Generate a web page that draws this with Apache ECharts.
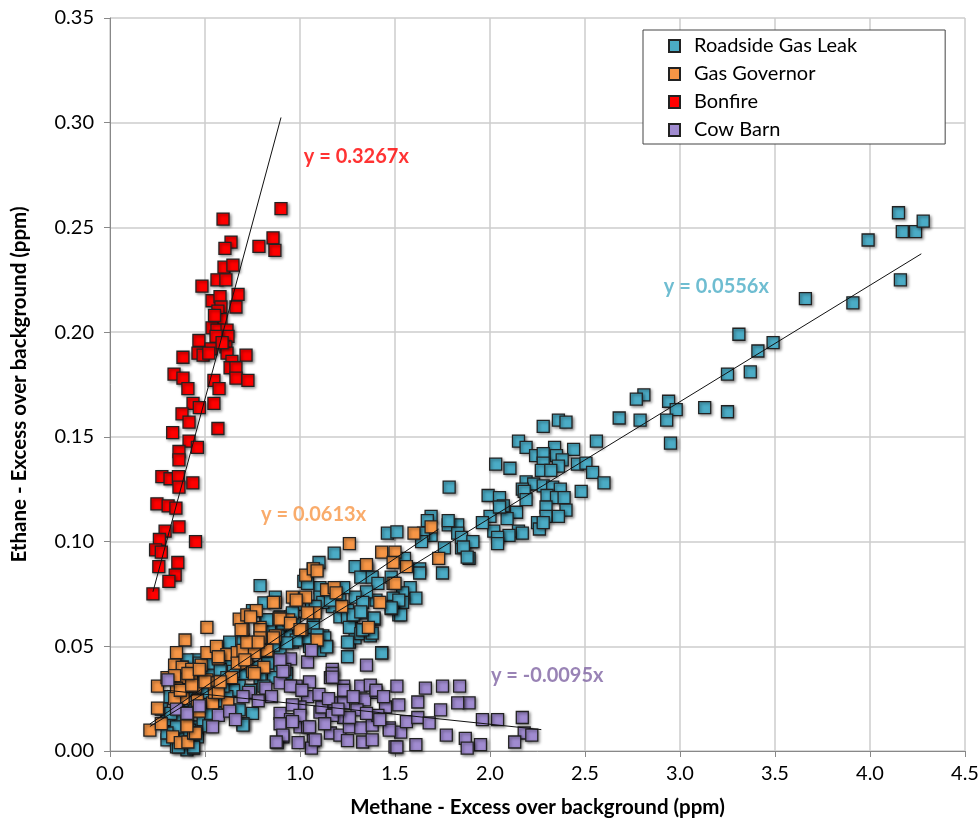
<!DOCTYPE html>
<html>
<head>
<meta charset="utf-8">
<script src="https://cdn.jsdelivr.net/npm/echarts@6/dist/echarts.min.js"></script>
<style>html,body{margin:0;padding:0;background:#fff}#c{width:980px;height:821px}</style>
</head>
<body>
<div id="c"></div>
<script>
const xTicks = [0.0,0.5,1.0,1.5,2.0,2.5,3.0,3.5,4.0,4.5];
const yTicks = [0.00,0.05,0.10,0.15,0.20,0.25,0.30,0.35];

const roadside = [
[4.15,0.257],[4.17,0.248],[4.24,0.248],[4.28,0.253],[3.99,0.244],[4.16,0.225],[3.66,0.216],[3.91,0.214],[3.31,0.199],[3.49,0.195],[3.41,0.191],[3.37,0.181],[3.25,0.180],[2.81,0.170],[2.77,0.168],[2.94,0.167],[2.98,0.163],[3.13,0.164],[3.25,0.162],[2.68,0.159],[2.79,0.158],[2.93,0.158],[2.95,0.147],
[2.28,0.155],[2.36,0.158],[2.40,0.157],[2.56,0.148],[2.15,0.148],[2.19,0.145],[2.34,0.145],[2.44,0.144],[2.24,0.141],[2.28,0.142],[2.35,0.141],[2.38,0.139],[2.03,0.137],[2.28,0.1375],[2.36,0.136],[2.46,0.137],[2.505,0.1375],[2.105,0.135],[2.27,0.134],[2.32,0.134],[2.54,0.133],[2.60,0.128],[1.785,0.126],[2.19,0.1285],[2.23,0.1275],[2.28,0.1266],[2.33,0.126],[2.37,0.125],[2.48,0.124],[2.17,0.125],[1.99,0.122],[2.05,0.121],[2.07,0.117],[2.30,0.122],[2.35,0.121],[2.39,0.121],[2.40,0.115],[2.295,0.1165],[2.295,0.112],[2.36,0.112],[2.14,0.114],[2.09,0.111],[2.0,0.112],[2.25,0.109],[2.26,0.106],[2.28,0.109],[2.15,0.105],[2.17,0.104],[2.10,0.103],[2.02,0.105],[1.96,0.109],[2.04,0.102],[2.04,0.099],[1.90,0.100],[1.86,0.099],[1.83,0.108],[1.78,0.108],[1.83,0.104],[1.85,0.097],[1.89,0.092],[1.75,0.085],[1.69,0.112],[1.69,0.103],[2.05,0.1165],[2.18,0.124],[2.19,0.120],[1.67,0.110],[1.78,0.110],[1.65,0.104],[1.64,0.100],[1.85,0.102],[1.91,0.100],[1.76,0.097],[1.86,0.0974],[1.88,0.0926],
[1.46,0.104],[1.51,0.1046],[1.18,0.0945],[1.55,0.092],[1.63,0.087],[1.63,0.085],[1.10,0.090],[1.02,0.081],[1.29,0.088],[1.35,0.087],[1.32,0.083],[1.38,0.083],[1.41,0.080],[1.48,0.083],[1.58,0.078],[1.61,0.073],[1.54,0.0755],[1.49,0.073],[1.54,0.071],[1.49,0.069],[1.52,0.065],[1.40,0.072],[1.35,0.076],[1.29,0.0735],[1.105,0.078],[1.18,0.077],[1.23,0.078],[1.33,0.071],[1.21,0.072],[1.17,0.069],[1.21,0.064],[1.27,0.064],[1.32,0.066],[1.39,0.063],[1.35,0.057],[1.06,0.069],[1.07,0.064],[0.98,0.070],[0.96,0.065],[1.12,0.055],[1.09,0.053],[1.26,0.052],[1.29,0.054],[1.04,0.080],
[1.07,0.087],[0.79,0.079],[0.87,0.0735],[0.82,0.0626],[1.105,0.0735],[1.12,0.071],[1.08,0.069],[1.25,0.067],[1.25,0.064],[1.26,0.059],[1.32,0.056],[1.37,0.055],[1.25,0.052],[1.43,0.047],[1.13,0.054],[1.14,0.050],[1.105,0.048],[1.05,0.050],[1.04,0.054],[0.96,0.052],[0.98,0.055],[0.93,0.057],[0.895,0.060],[0.895,0.064],[0.85,0.0626],[0.84,0.058],[0.885,0.055],[0.95,0.064],[0.97,0.061],[0.895,0.048],
[1.25,0.045],[1.53,0.065],[1.52,0.072],[1.48,0.068],[1.28,0.065],[1.33,0.058],[1.38,0.0563],[1.39,0.0635],
[0.81,0.0707],[0.75,0.067],[0.826,0.0626],[1.16,0.072],[0.96,0.066],[1.07,0.059],[1.09,0.0554],[1.14,0.0497],[0.91,0.061],[0.98,0.053],[0.93,0.0516],[0.86,0.0506],[0.79,0.048],[0.67,0.045],[0.46,0.0435],[0.53,0.037],[0.38,0.037],[0.62,0.042],[0.70,0.037],[0.75,0.040],[0.83,0.042],[0.895,0.040],[0.93,0.037],[0.86,0.035],[0.79,0.035],[0.68,0.031],[0.65,0.029],[0.74,0.029],[0.81,0.031],[0.68,0.0196],[0.75,0.018],[0.70,0.013],[0.316,0.026],[0.49,0.021],[0.44,0.0196],[0.37,0.015],[0.30,0.015],[0.30,0.0053],[0.35,0.002],[0.405,0.0005],[0.44,0.0014],[0.38,0.0067],[0.46,0.0067],[0.33,0.0086],[0.35,0.0115],[0.46,0.0115],[0.49,0.015],[0.53,0.018],[0.58,0.021],[0.615,0.026],[0.595,0.031],[0.51,0.028],[0.405,0.029],[0.47,0.034],[0.42,0.034],[0.405,0.0435],[0.38,0.040],[0.47,0.042],[0.54,0.042],[0.58,0.039],[0.65,0.038],[0.615,0.035],
[0.63,0.052],[0.70,0.053],[0.80,0.048],[0.55,0.031],[0.57,0.024],[0.52,0.012],[0.42,0.010],[0.27,0.020],[0.32,0.018],[0.38,0.024],[0.70,0.0124],[0.30,0.0086],[0.36,0.0019],[0.44,0.0019],[1.43,0.0468],[1.33,0.0578],[1.28,0.065],[1.32,0.0664],[1.48,0.0683]
];

const gasGovernor = [
[1.26,0.099],[1.43,0.095],[1.50,0.095],[1.60,0.104],[1.69,0.107],[1.56,0.088],[1.49,0.080],[1.42,0.071],[1.35,0.089],[1.36,0.059],[1.22,0.069],[1.14,0.077],[1.18,0.078],[1.19,0.0755],[1.03,0.084],[1.07,0.087],[1.09,0.086],[0.96,0.0735],[1.03,0.0735],[1.08,0.066],[0.87,0.071],[0.89,0.0635],[0.94,0.0626],[1.01,0.058],[1.09,0.053],[0.79,0.059],[0.87,0.055],[1.49,0.090],[1.73,0.092],[1.50,0.080],
[0.51,0.059],[0.395,0.053],[0.35,0.047],[0.34,0.041],[0.25,0.031],[0.25,0.0205],[0.21,0.010],[0.27,0.013],[0.33,0.0067],[0.37,0.004],[0.41,0.0043],[0.405,0.013],[0.44,0.0086],[0.405,0.018],[0.385,0.025],[0.46,0.024],[0.54,0.023],[0.62,0.023],[0.30,0.035],[0.385,0.035],[0.43,0.035],[0.51,0.034],[0.56,0.0325],[0.35,0.030],[0.38,0.040],[0.43,0.039],[0.48,0.041],[0.51,0.047],[0.56,0.050],[0.615,0.046],[0.67,0.047],[0.70,0.048],[0.57,0.044],[0.67,0.042],[0.72,0.042],[0.75,0.038],[0.81,0.040],[0.68,0.063],[0.72,0.065],[0.77,0.067],[0.70,0.058],[0.79,0.058],[0.79,0.054],[0.895,0.063],[0.95,0.061],[0.86,0.071],[0.98,0.072],[1.04,0.066],[1.0,0.058],[0.86,0.054],[0.826,0.048],[0.76,0.047],[0.72,0.052],[0.47,0.019],[0.55,0.028],[0.45,0.031],[0.34,0.025],[0.37,0.029],[0.43,0.0315],[0.50,0.033],[0.57,0.028],[0.34,0.036],[0.41,0.037],[0.47,0.039],[0.57,0.045],[0.74,0.064],[0.69,0.058],[0.78,0.052],[0.71,0.0435],[0.76,0.037],[0.64,0.035],[0.58,0.033],[0.45,0.0086],[0.405,0.012]
];

const bonfire = [
[0.90,0.259],[0.595,0.254],[0.858,0.245],[0.868,0.239],[0.784,0.241],[0.637,0.243],[0.605,0.240],[0.60,0.231],[0.647,0.232],[0.563,0.225],[0.61,0.225],[0.484,0.222],[0.674,0.218],[0.537,0.215],[0.579,0.217],[0.584,0.212],[0.663,0.212],[0.568,0.210],[0.584,0.206],[0.537,0.202],[0.563,0.201],[0.616,0.201],[0.621,0.198],[0.558,0.198],[0.468,0.196],[0.532,0.192],[0.61,0.193],[0.463,0.190],[0.49,0.189],[0.384,0.188],[0.616,0.190],[0.716,0.189],[0.642,0.186],[0.632,0.183],[0.663,0.183],[0.337,0.180],[0.384,0.178],[0.41,0.173],[0.547,0.177],[0.574,0.173],[0.663,0.178],[0.726,0.177],[0.437,0.166],[0.47,0.164],[0.547,0.166],[0.379,0.161],[0.416,0.157],[0.568,0.154],[0.33,0.152],[0.416,0.148],[0.46,0.145],[0.363,0.143],[0.363,0.139],[0.273,0.131],[0.316,0.130],[0.36,0.131],[0.363,0.126],[0.436,0.128],[0.247,0.118],[0.306,0.117],[0.347,0.116],[0.363,0.107],[0.29,0.105],[0.26,0.101],[0.45,0.100],[0.24,0.096],[0.27,0.095],[0.257,0.088],[0.357,0.090],[0.343,0.084],[0.31,0.081],[0.226,0.075],[0.55,0.208],[0.59,0.195],[0.52,0.190]
];

const cowBarn = [
[0.305,0.034],[0.35,0.020],[0.405,0.018],[0.47,0.0215],[0.57,0.017],[0.63,0.019],[0.54,0.0115],[0.73,0.028],[0.82,0.030],[0.895,0.0325],[0.95,0.044],[1.04,0.0425],[1.06,0.048],[0.92,0.039],[0.98,0.031],[1.04,0.026],[1.16,0.035],[1.17,0.039],[1.23,0.031],[1.0,0.021],[0.895,0.018],[0.95,0.015],[0.895,0.013],[1.0,0.0115],[1.04,0.0115],[0.91,0.0067],[0.88,0.004],[1.07,0.005],[1.06,0.0014],[1.16,0.0086],[1.21,0.0076],[1.23,0.016],[1.105,0.0186],[1.17,0.023],
[0.895,0.0435],[0.91,0.038],[1.35,0.041],[1.17,0.037],[1.05,0.033],[0.95,0.031],[1.32,0.031],[1.37,0.0315],[1.40,0.028],[1.51,0.031],[0.96,0.022],[1.115,0.021],[1.23,0.023],[1.34,0.0244],[1.45,0.021],[1.52,0.022],[1.62,0.0234],[1.30,0.0196],[1.17,0.017],[1.0,0.017],[0.96,0.014],[1.05,0.0115],[1.08,0.0053],[1.26,0.0115],[1.32,0.011],[1.38,0.0124],[1.33,0.0043],[1.38,0.0053],[1.47,0.011],[1.53,0.009],[1.50,0.002],[1.56,0.014],[1.61,0.003],[0.91,0.0076],[0.875,0.0043],[1.26,0.016],[1.41,0.017],[1.01,0.029],
[1.66,0.030],[1.75,0.031],[1.84,0.031],[1.89,0.023],[1.83,0.023],[1.74,0.0196],[1.62,0.016],[1.68,0.0134],[1.77,0.0076],[1.87,0.006],[1.95,0.003],[1.88,0.0014],[1.96,0.015],[2.04,0.015],[2.17,0.016],[2.18,0.0086],[2.22,0.0076],[2.13,0.0043],[1.51,0.0019],[1.47,0.010],[1.40,0.029],[1.23,0.029],[1.17,0.0353],
[1.10,0.027],[1.15,0.025],[1.28,0.026],[1.44,0.026],[1.20,0.020],[1.35,0.018],[1.42,0.015],[1.13,0.013],[1.25,0.005],[0.99,0.004],[0.85,0.026],[0.78,0.024],[0.70,0.026],[0.66,0.015]
];

// trend line end points [x, y]
const trendRoadside = [[0.21,0.0117],[4.27,0.2374]];
const trendGas = [[0.21,0.0129],[1.73,0.1060]];
const trendBonfire = [[0.226,0.0760],[0.90,0.3025]];
const trendCow = [[0.30,0.0290],[2.27,0.0102]];

// equation labels anchored at data coordinates
const eqLabels = [
  {text:'y = 0.3267x', pos:[1.02,0.2837], color:'#ff0000'},
  {text:'y = 0.0556x', pos:[2.915,0.2216], color:'#4bacc6'},
  {text:'y = 0.0613x', pos:[0.795,0.1127], color:'#f79646'},
  {text:'y = -0.0095x', pos:[2.005,0.0358], color:'#8064a2'}
];

const FONT = 'Lato, "Open Sans", "Noto Sans", sans-serif';
const chart = echarts.init(document.getElementById('c'), null, {renderer:'canvas'});

function scatter(name, data, color) {
  return {
    name: name, type: 'scatter', data: data, symbol: 'rect', symbolSize: 12,
    itemStyle: {color: color, borderColor: '#222', borderWidth: 1.3,
      shadowBlur: 3, shadowColor: 'rgba(0,0,0,0.45)', shadowOffsetX: 1.5, shadowOffsetY: 1.5, opacity: 1},
    emphasis: {disabled: true}, z: 2
  };
}
function trend(data) {
  return {type: 'line', data: data, symbol: 'none', lineStyle: {color: '#111', width: 1}, silent: true, z: 5, animation: false};
}

chart.setOption({
  animation: false,
  backgroundColor: '#fff',
  grid: {left: 110, right: 15, top: 18, bottom: 70, containLabel: false, outerBoundsMode: 'none'},
  xAxis: {
    type: 'value', min: 0, max: 4.5, interval: 0.5,
    name: 'Methane - Excess over background (ppm)', nameLocation: 'middle', nameGap: 46,
    nameTextStyle: {fontFamily: FONT, fontSize: 20.5, fontWeight: 'bold', color: '#000'},
    axisLine: {show: true, lineStyle: {color: '#888', width: 1}},
    axisTick: {show: true, length: 6, lineStyle: {color: '#888'}},
    axisLabel: {fontFamily: FONT, fontSize: 20, color: '#000', margin: 13,
      formatter: v => { const t = xTicks.find(k => Math.abs(k - v) < 1e-9); return (t !== undefined ? t : v).toFixed(1); }},
    splitLine: {show: true, lineStyle: {color: '#cccccc', width: 1.5}}
  },
  yAxis: {
    type: 'value', min: 0, max: 0.35, interval: 0.05,
    name: 'Ethane - Excess over background (ppm)', nameLocation: 'middle', nameGap: 80, nameRotate: 90,
    nameTextStyle: {fontFamily: FONT, fontSize: 20.5, fontWeight: 'bold', color: '#000'},
    axisLine: {show: true, lineStyle: {color: '#888', width: 1}},
    axisTick: {show: true, length: 6, lineStyle: {color: '#888'}},
    axisLabel: {fontFamily: FONT, fontSize: 20, color: '#000', margin: 16,
      formatter: v => { const t = yTicks.find(k => Math.abs(k - v) < 1e-9); return (t !== undefined ? t : v).toFixed(2); }},
    splitLine: {show: true, lineStyle: {color: '#cccccc', width: 1.5}}
  },
  legend: {
    show: true, orient: 'vertical', left: 643, top: 30,
    data: ['Roadside Gas Leak','Gas Governor','Bonfire','Cow Barn'],
    backgroundColor: '#fff', borderColor: '#444', borderWidth: 1,
    padding: [6, 88, 4, 25], itemGap: 8, itemWidth: 11, itemHeight: 12,
    icon: 'rect',
    textStyle: {fontFamily: FONT, fontSize: 20, color: '#000', lineHeight: 20, padding: [0,0,0,9]},
    selectedMode: false
  },
  series: [
    scatter('Roadside Gas Leak', roadside, '#4bacc6'),
    scatter('Gas Governor', gasGovernor, '#f79646'),
    scatter('Bonfire', bonfire, '#ff0000'),
    scatter('Cow Barn', cowBarn, '#a08bd0'),
    trend(trendRoadside), trend(trendGas), trend(trendBonfire), trend(trendCow),
    {
      type: 'scatter', symbolSize: 0, silent: true, z: 6,
      data: eqLabels.map(e => ({value: e.pos, label: {show: true, position: 'right', distance: 0,
        formatter: e.text, color: e.color, fontFamily: FONT, fontSize: 20, fontWeight: 'bold'}}))
    }
  ]
});
</script>
</body>
</html>
